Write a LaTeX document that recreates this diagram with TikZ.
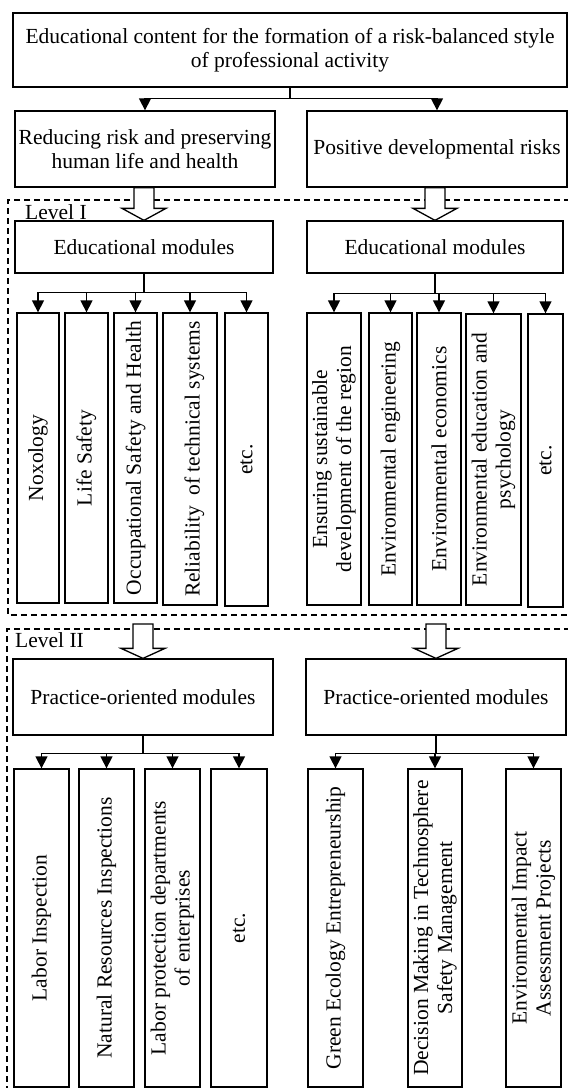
\documentclass[tikz,border=0pt]{standalone}
\usepackage{fontspec}
\setmainfont{Liberation Serif}
\usetikzlibrary{arrows.meta,calc}
\newcommand\myfs{\fontsize{21.5}{24}\selectfont}
\newcommand\harrow[3]{%
  \draw[hol] ($(#2 |- #1)+(-10,0)$) -- ($(#2)+(-10,-#3)$) -- ($(#2)+(-22,-#3)$) -- (#2)
    -- ($(#2)+(22,-#3)$) -- ($(#2)+(10,-#3)$) -- ($(#2 |- #1)+(10,0)$) -- cycle;}
\begin{document}
\begin{tikzpicture}[x=1pt,y=-1pt,
  box/.style={draw, line width=1.3pt, fill=white, align=center, inner sep=1pt, font=\myfs},
  vbox/.style={box, rotate=90},
  arr/.style={-{Triangle[width=12pt,length=12pt]}, line width=1.3pt},
  hol/.style={line width=1.3pt, fill=white},
  lvl/.style={dashed, dash pattern=on 6pt off 4pt, line width=1.3pt},
  lbl/.style={font=\myfs, inner sep=0pt}]
\useasboundingbox (0,0) rectangle (568,1088);

% level frames
\draw[lvl] (570,200) -- (8,200) -- (8,615) -- (570,615);
\draw[lvl] (570,629) -- (7,629) -- (7,1092);

% top
\node[box, minimum width=554, minimum height=74] (top) at (290,50)
  {Educational content for the formation of a risk-balanced style\\of professional activity};
\node[box, minimum width=260, minimum height=76] (r1) at (145,149)
  {Reducing risk and preserving\\human life and health};
\node[box, minimum width=260, minimum height=76] (r2) at (437,149)
  {Positive developmental risks};
\draw[arr] (top.south) -- ++(0,11) -| (r1.north);
\draw[arr] (top.south) -- ++(0,11) -| (r2.north);

% Level I
\node[lbl, anchor=base west] (lv1) at (25,219) {Level I};
\node[box, minimum width=258, minimum height=52] (e1) at (144,247) {Educational modules};
\node[box, minimum width=256, minimum height=52] (e2) at (435,247) {Educational modules};
\harrow{r1.south}{e1.north}{12}
\harrow{r2.south}{e2.north}{12}

\node[vbox, minimum width=290, minimum height=42] (a1) at (38,458) {Noxology};
\node[vbox, minimum width=290, minimum height=43] (a2) at (86.5,458) {Life Safety};
\node[vbox, minimum width=290, minimum height=43] (a3) at (135.5,458) {Occupational Safety and Health};
\node[vbox, minimum width=292, minimum height=54] (a4) at (190,459) {\mbox{}\\Reliability\ \ of technical systems};
\node[vbox, minimum width=293, minimum height=43] (a5) at (246.5,459.5) {etc.};
\foreach \n in {a1,a2,a3,a4,a5}{\draw[arr] (e1.south) -- ++(0,19) -| (\n.east);}

\node[vbox, minimum width=292, minimum height=54] (b1) at (334,459) {Ensuring sustainable\\development of the region};
\node[vbox, minimum width=292, minimum height=43] (b2) at (390.5,459) {Environmental engineering};
\node[vbox, minimum width=292, minimum height=44] (b3) at (439,459) {Environmental economics};
\node[vbox, minimum width=291, minimum height=55] (b4) at (493.5,459.5) {Environmental education and\\psychology};
\node[vbox, minimum width=293, minimum height=35] (b5) at (545.5,460.5) {etc.};
\foreach \n in {b1,b2,b3,b4,b5}{\draw[arr] (e2.south) -- ++(0,20) -| (\n.east);}

% Level II
\node[lbl, anchor=base west] (lv2) at (15,647) {Level II};
\node[box, minimum width=260, minimum height=76] (p1) at (143,697) {Practice-oriented modules};
\node[box, minimum width=260, minimum height=76] (p2) at (436,697) {Practice-oriented modules};
\coordinate (s1) at (143,624);
\coordinate (s2) at (436,624);
\harrow{s1}{p1.north}{10}
\harrow{s2}{p2.north}{10}

\node[vbox, minimum width=318, minimum height=55] (c1) at (41.5,928) {Labor Inspection};
\node[vbox, minimum width=318, minimum height=55] (c2) at (106.5,928) {Natural Resources Inspections};
\node[vbox, minimum width=318, minimum height=55] (c3) at (172.5,928) {Labor protection departments\\of enterprises};
\node[vbox, minimum width=318, minimum height=56] (c4) at (239,928) {etc.};
\foreach \n in {c1,c2,c3,c4}{\draw[arr] (p1.south) -- ++(0,18) -| (\n.east);}

\node[vbox, minimum width=318, minimum height=55] (d1) at (335.5,928) {Green Ecology Entrepreneurship};
\node[vbox, minimum width=318, minimum height=54] (d2) at (435,928) {Decision Making in Technosphere\\Safety Management};
\node[vbox, minimum width=318, minimum height=55] (d3) at (533.5,928) {Environmental Impact\\Assessment Projects};
\foreach \n in {d1,d2,d3}{\draw[arr] (p2.south) -- ++(0,18) -| (\n.east);}
\end{tikzpicture}
\end{document}
